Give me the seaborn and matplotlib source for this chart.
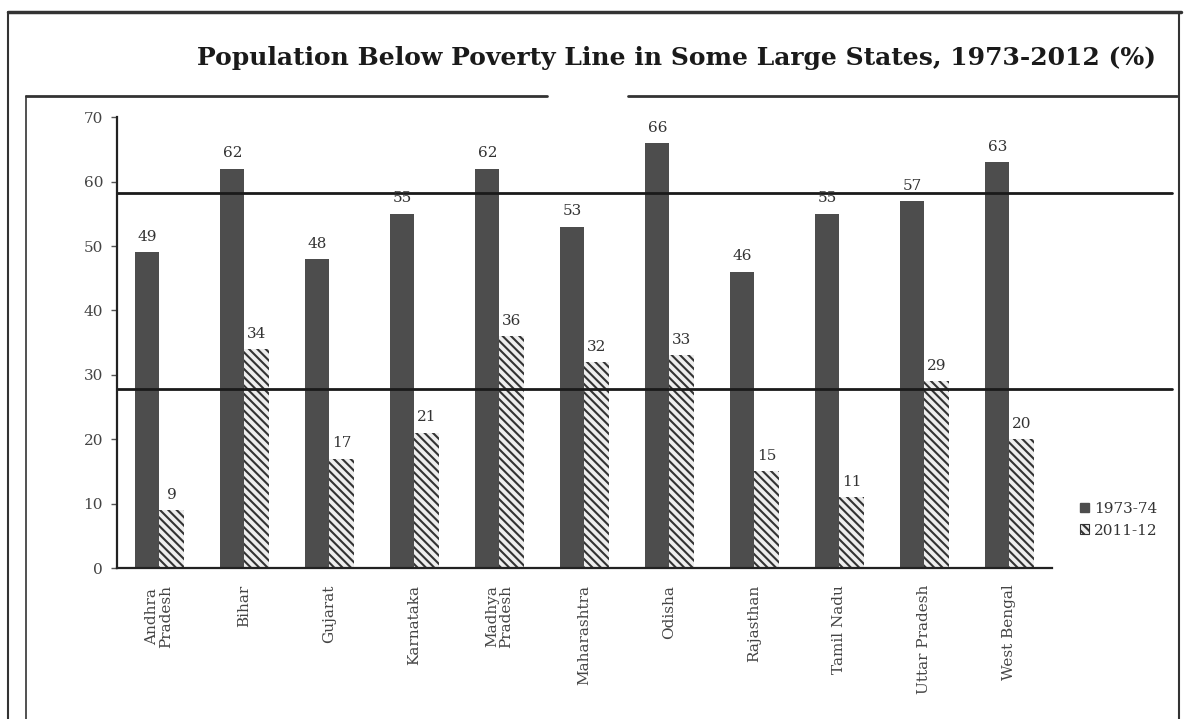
import matplotlib
matplotlib.use("Agg")
import matplotlib.pyplot as plt
import matplotlib.transforms as mtransforms
from matplotlib.patches import Patch
from matplotlib.lines import Line2D
import seaborn as sns
import pandas as pd
import numpy as np

states = ["Andhra\nPradesh", "Bihar", "Gujarat", "Karnataka", "Madhya\nPradesh",
          "Maharashtra", "Odisha", "Rajasthan", "Tamil Nadu", "Uttar Pradesh", "West Bengal"]
years = ["1973-74", "2011-12"]
v1973 = [49, 62, 48, 55, 62, 53, 66, 46, 55, 57, 63]
v2011 = [9, 34, 17, 21, 36, 32, 33, 15, 11, 29, 20]
yticks = [0, 10, 20, 30, 40, 50, 60, 70]
title = "Population Below Poverty Line in Some Large States, 1973-2012 (%)"

df = pd.DataFrame({
    "state": states * 2,
    "year": [years[0]] * len(states) + [years[1]] * len(states),
    "value": v1973 + v2011,
})

sns.set_theme(style="white")
plt.rcParams["font.family"] = ["DejaVu Serif"]
plt.rcParams["hatch.color"] = "#333333"
plt.rcParams["hatch.linewidth"] = 1.5

fig = plt.figure(figsize=(11.85, 7.19), dpi=100)
ax = fig.add_axes([0.0987, 0.21, 0.789, 0.627])

sns.barplot(data=df, x="state", y="value", hue="year", order=states, hue_order=years,
            palette=["#4d4d4d", "#eeeeee"], width=0.57, saturation=1, ax=ax,
            legend=False, edgecolor="none")

for i, cont in enumerate(ax.containers):
    for p in cont:
        if i == 1:
            p.set_hatch("\\\\\\\\")
            p.set_edgecolor("#333333")
            p.set_linewidth(0)
    ax.bar_label(cont, labels=[str(int(v)) for v in cont.datavalues], padding=6,
                 fontsize=11, color="#333333")

ax.set_ylim(0, 70)
ax.set_xlim(-0.5, len(states) - 0.5)
ax.set_yticks(yticks)
ax.set_yticklabels([str(t) for t in yticks], fontsize=11, color="#444444")
ax.set_xticks(range(len(states)))
ax.set_xticklabels(states, rotation=90, fontsize=11, color="#444444", va="top", ha="center",
                   linespacing=1.0)
offset = mtransforms.ScaledTranslation(-10 / 100, 0, fig.dpi_scale_trans)
for lbl in ax.get_xticklabels():
    lbl.set_transform(lbl.get_transform() + offset)
ax.set_xticks(np.arange(0.5, len(states) - 0.5, 1), minor=True)
ax.tick_params(axis="x", which="major", length=0, pad=12)
ax.tick_params(axis="x", which="minor", length=4, width=1, color="#555555", direction="out")
ax.tick_params(axis="y", length=4, width=1, color="#555555", direction="out", left=True, pad=6)
ax.set_xlabel("")
ax.set_ylabel("")
sns.despine(ax=ax)
for s in ["left", "bottom"]:
    ax.spines[s].set_color("#222222")
    ax.spines[s].set_linewidth(1.6)

# horizontal lines seen across the scanned chart
for yl in [58.3, 27.8]:
    ax.axhline(yl, xmin=0, xmax=1.128, color="#1a1a1a", lw=2, clip_on=False)

# legend
handles = [Patch(facecolor="#4d4d4d", edgecolor="#4d4d4d"),
           Patch(facecolor="#eeeeee", edgecolor="#333333", hatch="\\\\\\\\", linewidth=0.8)]
fig.legend(handles, years, loc="center left", bbox_to_anchor=(0.9, 0.277), frameon=False,
           fontsize=11, handlelength=0.6, handleheight=0.6, handletextpad=0.3,
           labelspacing=0.5, labelcolor="#333333")

fig.text(0.571, 0.92, title, ha="center", va="center", fontsize=18, fontweight="bold",
         color="#1a1a1a")

# outer frames
fig.add_artist(Line2D([0.007, 0.007], [0, 0.983], transform=fig.transFigure, color="#333333", lw=1.5))
fig.add_artist(Line2D([0.007, 0.997], [0.983, 0.983], transform=fig.transFigure, color="#333333", lw=2.5))
fig.add_artist(Line2D([0.995, 0.995], [0, 0.983], transform=fig.transFigure, color="#333333", lw=1.5))
fig.add_artist(Line2D([0.022, 0.462], [0.866, 0.866], transform=fig.transFigure, color="#333333", lw=2))
fig.add_artist(Line2D([0.530, 0.993], [0.866, 0.866], transform=fig.transFigure, color="#333333", lw=2))
fig.add_artist(Line2D([0.022, 0.022], [0, 0.866], transform=fig.transFigure, color="#333333", lw=1.2))

fig.savefig("out.png", dpi=100)
